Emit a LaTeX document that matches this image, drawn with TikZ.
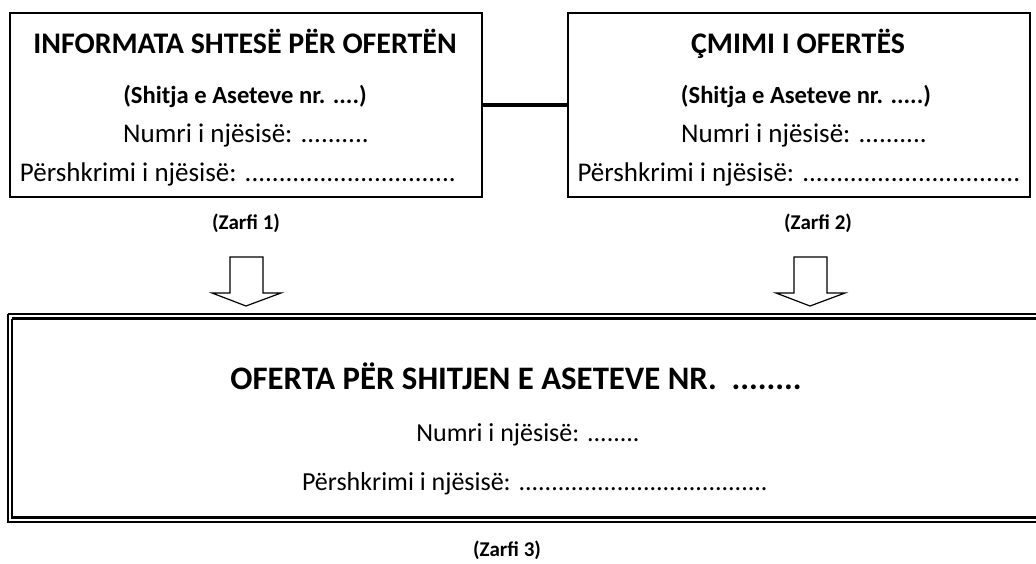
\documentclass[tikz,border=0pt]{standalone}
\usepackage{fontspec}
\setmainfont{Carlito}
\begin{document}
\begin{tikzpicture}[x=1pt,y=-1pt,
  box/.style={draw, line width=1.2pt, inner sep=0pt},
  ttl/.style={anchor=base, font=\fontsize{29.9}{34}\bfseries},
  sub/.style={anchor=base, font=\fontsize{24.6}{29}\bfseries},
  bodytxt/.style={anchor=base, font=\fontsize{27}{32}\selectfont},
  zarfi/.style={anchor=base, font=\fontsize{21}{25}\bfseries},
  bigttl/.style={anchor=base, font=\fontsize{32.8}{38}\bfseries},
  bigbody/.style={anchor=base, font=\fontsize{26}{31}\selectfont},
  blockarrow/.style={draw, line width=1.2pt, fill=white, line join=miter}]
\useasboundingbox (0,0) rectangle (1036,563);
% top boxes
\node[box, minimum width=472pt, minimum height=184pt] (b1) at (246,105) {};
\node[box, minimum width=462pt, minimum height=184pt] (b2) at (799,105) {};
\draw[line width=4pt] (b1.east) -- (b2.west);
% box 1 text
\node[ttl] (t1) at (245,53) {INFORMATA SHTESË PËR OFERTËN};
\node[sub] (s1) at (245,103) {(Shitja e Aseteve nr. ....)};
\node[bodytxt] (n1) at (246,142) {Numri i njësisë: ..........};
\node[bodytxt] (p1) at (238,181) {Përshkrimi i njësisë: ...............................};
\node[zarfi] (z1) at (246,229) {(Zarfi 1)};
% box 2 text
\node[ttl] (t2) at (798,53) {ÇMIMI I OFERTËS};
\node[sub] (s2) at (806,103) {(Shitja e Aseteve nr. .....)};
\node[bodytxt] (n2) at (804,142) {Numri i njësisë: ..........};
\node[bodytxt] (p2) at (799,181) {Përshkrimi i njësisë: ................................};
\node[zarfi] (z2) at (818,229) {(Zarfi 2)};
% block arrows
\draw[blockarrow] (230,257) -- (263,257) -- (263,293) -- (281,293) -- (246,306) -- (212,293) -- (230,293) -- cycle;
\draw[blockarrow] (794,257) -- (827,257) -- (827,293) -- (845,293) -- (810,306) -- (776,293) -- (794,293) -- cycle;
% bottom box (thin-thick double border, running off the right edge)
\draw[line width=2pt] (7.7,314.3) -- (1050,314.3) (7.7,314.3) -- (7.7,522) -- (1050,522);
\draw[line width=2.7pt] (12,318.7) -- (1050,318.7) (12,318.7) -- (12,517.5) -- (1050,517.5);
\node[bigttl] (t3) at (516,389) {OFERTA PËR SHITJEN E ASETEVE NR.\ \ ........};
\node[bigbody] (n3) at (528,441) {Numri i njësisë: ........};
\node[bigbody] (p3) at (535,490) {Përshkrimi i njësisë: ......................................};
\node[zarfi] (z3) at (507,556) {(Zarfi 3)};
\end{tikzpicture}
\end{document}
